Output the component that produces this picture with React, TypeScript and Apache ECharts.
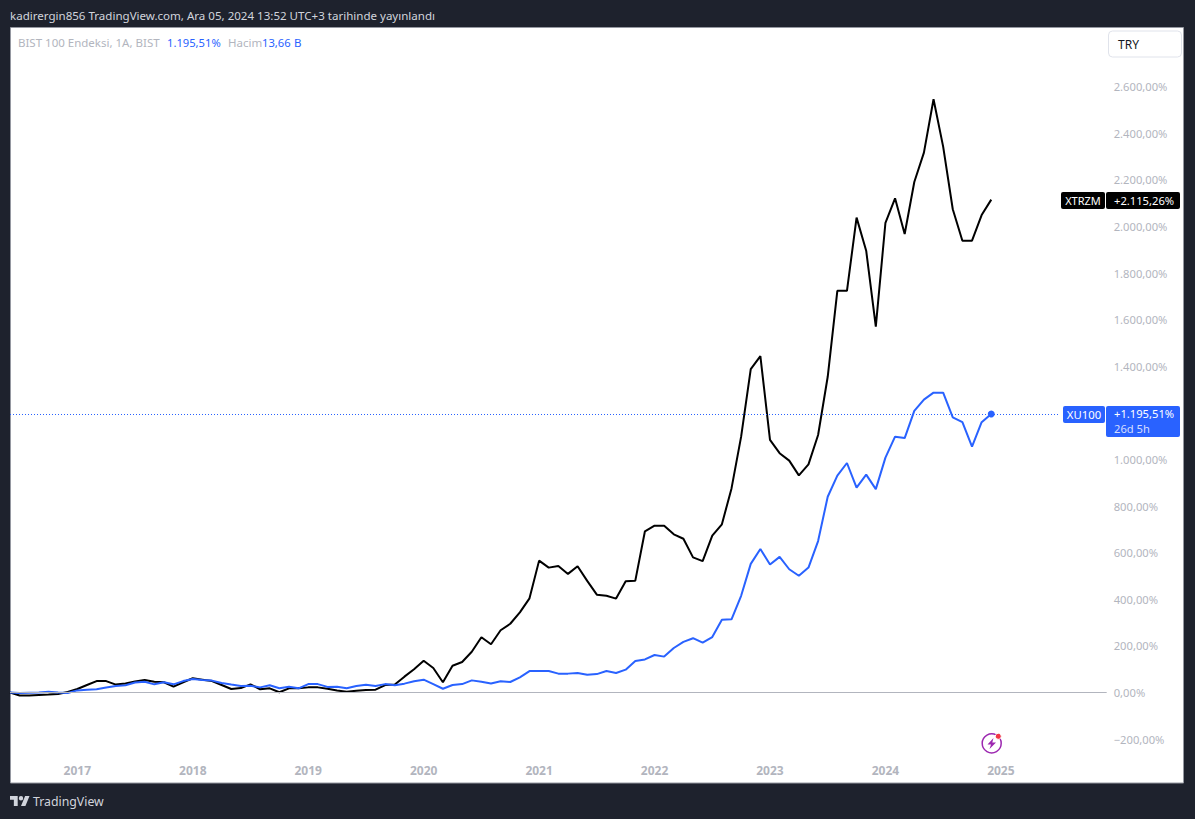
import React, { useEffect, useRef } from "react";
import * as echarts from "echarts";

const startYear = 2016;
const startMonth = 6;
const slotCount = 115;
const months: string[] = [];
for (let i = 0; i < slotCount; i++) {
  const m = startMonth - 1 + i;
  months.push(`${startYear + Math.floor(m / 12)}-${String((m % 12) + 1).padStart(2, "0")}`);
}

const xtrzm = [
  0, -13, -13, -11, -9, -6, 2, 15, 32, 49, 49, 34, 39, 47, 54, 46, 44, 25, 44, 61, 55, 49, 32, 15, 19, 35,
  14, 18, 1, 18, 18, 22, 22, 16, 9, 3, 8, 11, 12, 32, 34, 68, 100, 136, 105, 44, 115, 131, 175, 237, 207,
  267, 295, 344, 404, 566, 536, 543, 509, 542, 479, 420, 415, 403, 477, 480, 692, 716, 716, 679, 660, 580,
  564, 673, 722, 876, 1098, 1388, 1444, 1084, 1027, 995, 932, 979, 1105, 1355, 1724, 1724, 2038, 1896,
  1570, 2016, 2121, 1968, 2191, 2317, 2546, 2343, 2074, 1939, 1939, 2049, 2115.26,
];
const xu100 = [
  0, -2, -1, 0, 3, 0, -2, 9, 12, 14, 21, 28, 31, 43, 46, 35, 44, 35, 49, 58, 54, 51, 41, 34, 28, 29, 22, 31,
  18, 25, 18, 36, 36, 24, 25, 18, 28, 33, 28, 36, 31, 38, 48, 55, 36, 16, 32, 36, 52, 46, 39, 48, 45, 65,
  92, 92, 92, 81, 81, 84, 76, 79, 92, 84, 98, 135, 142, 161, 154, 191, 217, 233, 214, 238, 312, 314, 415,
  552, 616, 549, 582, 529, 501, 536, 650, 840, 931, 985, 879, 935, 873, 1008, 1098, 1092, 1209, 1257, 1287,
  1287, 1181, 1160, 1055, 1160, 1195.51,
];
const hiddenTicks = [1200, 2800];

const BLACK = "#000000";
const BLUE = "#2962ff";
const GRAY = "#b2b5be";
const FONT = '"Noto Sans", sans-serif';

echarts.graphic.registerShape(
  "tvLogo",
  echarts.graphic.extendPath("M14 22H7V11H0V4h14v18zM28 22h-8l7.5-18h8L28 22zM24 8a4 4 0 1 1-8 0 4 4 0 1 1 8 0z", {})
);

function fmtAxis(v: number): string {
  if (hiddenTicks.includes(v)) return "";
  const abs = Math.abs(v);
  const s = abs >= 1000 ? `${Math.floor(abs / 1000)}.${String(abs % 1000).padStart(3, "0")}` : String(abs);
  return `${v < 0 ? "\u2212" : ""}${s},00%`;
}

function label(text: string, x: number, y: number, fill: string, size = 12, align = "left", weight = "normal", z = 20) {
  return {
    type: "text",
    z,
    silent: true,
    style: { text, x, y, fill, align, verticalAlign: "middle", font: `${weight} ${size}px ${FONT}` },
  };
}

function box(x: number, y: number, width: number, height: number, fill: string) {
  return { type: "rect", z: 10, silent: true, shape: { x, y, width, height, r: 2 }, style: { fill } };
}

export default function App() {
  const ref = useRef<HTMLDivElement>(null);
  useEffect(() => {
    document.body.style.margin = "0";
    document.body.style.background = "#1e222d";
    const chart = echarts.init(ref.current!, undefined, { renderer: "svg" });
    chart.setOption({
      animation: false,
      backgroundColor: "#1e222d",
      textStyle: { fontFamily: FONT },
      grid: { left: 10, top: 40.1, width: 1096.7, height: 699, containLabel: false },
      xAxis: {
        type: "category",
        data: months,
        boundaryGap: false,
        axisLine: { show: false },
        axisTick: { show: false },
        splitLine: { show: false },
        axisLabel: {
          interval: (_: number, v: string) => v.endsWith("-01"),
          formatter: (v: string) => v.slice(0, 4),
          margin: 25,
          color: GRAY,
          fontSize: 12,
          fontWeight: "bold",
          fontFamily: FONT,
        },
      },
      yAxis: {
        type: "value",
        position: "right",
        min: -200,
        max: 2800,
        interval: 200,
        axisLine: { show: false },
        axisTick: { show: false },
        splitLine: { show: false },
        axisLabel: { formatter: fmtAxis, margin: 7, color: GRAY, fontSize: 11.2, fontFamily: FONT, padding: [0, 0, 4, 0] },
      },
      series: [
        {
          name: "XTRZM",
          type: "line",
          data: xtrzm,
          symbol: "none",
          lineStyle: { color: BLACK, width: 2 },
          itemStyle: { color: BLACK },
          markLine: {
            silent: true,
            symbol: "none",
            label: { show: false },
            lineStyle: { color: GRAY, width: 1, type: "solid" },
            data: [[{ coord: [months[0], 0] }, { coord: [months[slotCount - 1], 0] }]],
          },
        },
        {
          name: "XU100",
          type: "line",
          data: xu100,
          symbol: "none",
          lineStyle: { color: BLUE, width: 2 },
          itemStyle: { color: BLUE },
          markLine: {
            silent: true,
            symbol: "none",
            label: { show: false },
            lineStyle: { color: BLUE, width: 1, type: [1, 2] },
            data: [[{ coord: [months[0], 1195.51] }, { coord: [months[109], 1195.51] }]],
          },
          markPoint: {
            silent: true,
            symbol: "circle",
            symbolSize: 7,
            label: { show: false },
            itemStyle: { color: BLUE },
            data: [{ coord: [months[102], 1195.51] }],
          },
        },
      ],
      graphic: [
        { type: "rect", z: -1, silent: true, shape: { x: 10.5, y: 27.5, width: 1173, height: 755.5 }, style: { fill: "#ffffff", stroke: "#9598a1", lineWidth: 1 } },
        label("kadirergin856 TradingView.com, Ara 05, 2024 13:52 UTC+3 tarihinde yayınlandı", 10, 15, "#d1d4dc", 11.55),
        label("BIST 100 Endeksi, 1A, BIST", 18, 42, GRAY, 11.5),
        label("1.195,51%", 167, 42, BLUE, 11.2),
        label("Hacim", 228, 42, GRAY, 11.5),
        label("13,66", 262, 42, BLUE, 11.2),
        label("B", 294, 42, BLUE, 11.5),
        { type: "rect", z: 10, silent: true, shape: { x: 1108.5, y: 31, width: 73, height: 26, r: 4 }, style: { fill: "#ffffff", stroke: "#e0e3eb", lineWidth: 1 } },
        label("TRY", 1118, 44, "#131722", 12),
        box(1061, 192, 44, 17, BLACK),
        box(1106, 192, 74, 17, BLACK),
        label("XTRZM", 1083, 200.5, "#ffffff", 11, "center"),
        label("+2.115,26%", 1114, 200, "#ffffff", 11.2),
        box(1063, 406, 42, 17, BLUE),
        box(1106, 406, 74, 31, BLUE),
        label("XU100", 1084, 414.5, "#ffffff", 11.3, "center"),
        label("+1.195,51%", 1114, 413.5, "#ffffff", 11.2),
        label("26d 5h", 1114, 428.5, "#d4deff", 11.2),
        { type: "tvLogo", z: 20, silent: true, x: 10, y: 793.8, scaleX: 0.55, scaleY: 0.55, style: { fill: "#d1d4dc" } },
        label("TradingView", 33, 801, "#d1d4dc", 12.3),
        { type: "circle", z: 10, silent: true, shape: { cx: 991.7, cy: 743.3, r: 9.5 }, style: { fill: "#ffffff", stroke: "#9c27b0", lineWidth: 1.5 } },
        { type: "polygon", z: 11, silent: true, shape: { points: [[993.5, 738], [987.5, 744.5], [991, 744.5], [989.5, 749], [996, 742.5], [992.3, 742.5]] }, style: { fill: "#9c27b0" } },
        { type: "circle", z: 12, silent: true, shape: { cx: 998.3, cy: 736.3, r: 3 }, style: { fill: "#f23645", stroke: "#ffffff", lineWidth: 1 } },
      ],
    });
    return () => chart.dispose();
  }, []);
  return <div ref={ref} style={{ width: 1195, height: 819 }} />;
}
